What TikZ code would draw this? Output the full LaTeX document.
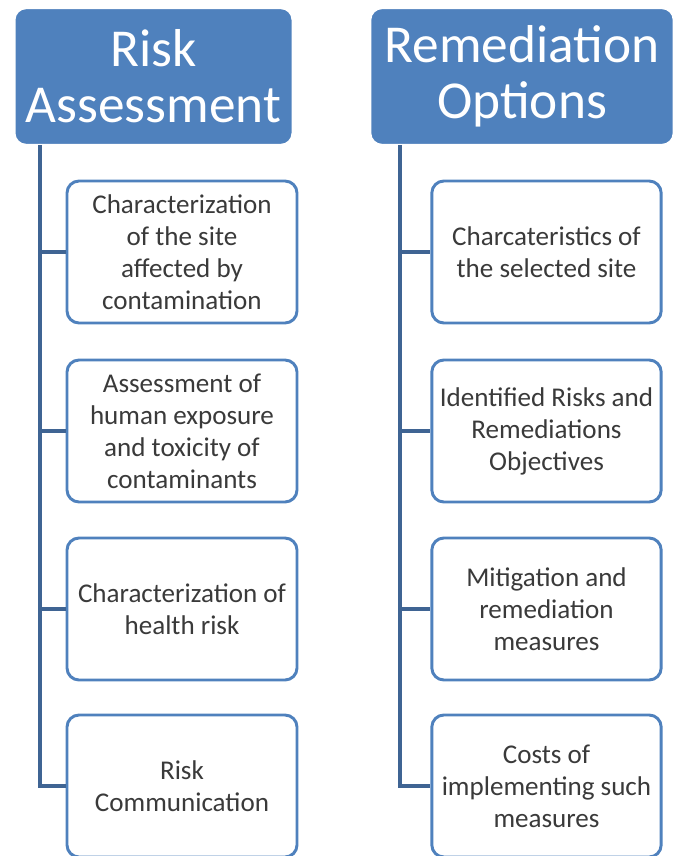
\documentclass[tikz,border=0pt]{standalone}
\usepackage{fontspec}
\setmainfont{Carlito}
\definecolor{hdrblue}{HTML}{4F81BD}
\definecolor{linkblue}{HTML}{3F6493}
\definecolor{txtgray}{HTML}{3A3A3A}
\begin{document}
\begin{tikzpicture}[x=0.75pt,y=-0.75pt,
  header/.style={rectangle,rounded corners=9pt,fill=hdrblue,draw=white,line width=2pt,
    text=white,align=center,inner sep=0pt,
    font=\fontsize{40}{42}\selectfont},
  item/.style={rectangle,rounded corners=9pt,fill=white,draw=hdrblue,line width=2.2pt,
    text=txtgray,align=center,inner sep=0pt,minimum height=106.5pt,
    font=\fontsize{20.3}{24}\selectfont},
  link/.style={draw=linkblue,line width=3pt}]

\clip (0,0) rectangle (675,856);
\useasboundingbox (0,0) rectangle (675,856);

% headers
\node[header,minimum width=209pt,minimum height=103pt] (risk) at (153.5,76.5) {Risk\\Assessment};
\node[header,minimum width=228pt,minimum height=103pt] (remed) at (522,76.5) {Remediation\\Options};

% left column
\node[item,minimum width=172.5pt] (a1) at (182,252) {Characterization\\of the site\\affected by\\contamination};
\node[item,minimum width=172.5pt] (a2) at (182,431) {Assessment of\\human exposure\\and toxicity of\\contaminants};
\node[item,minimum width=172.5pt] (a3) at (182,609) {Characterization of\\health risk};
\node[item,minimum width=172.5pt] (a4) at (182,786) {Risk\\Communication};

% right column
\node[item,minimum width=172pt] (b1) at (546.5,252) {Charcateristics of\\the selected site};
\node[item,minimum width=172pt] (b2) at (546.5,431) {Identified Risks and\\Remediations\\Objectives};
\node[item,minimum width=172pt] (b3) at (546.5,609) {Mitigation and\\remediation\\measures};
\node[item,minimum width=172pt] (b4) at (546.5,786) {Costs of\\implementing such\\measures};

% connectors
\coordinate (ta) at (40,145);
\coordinate (tb) at (400,145);
\draw[link] (ta) |- (a1.west);
\draw[link] (ta) |- (a2.west);
\draw[link] (ta) |- (a3.west);
\draw[link] (ta) |- (a4.west);
\draw[link] (tb) |- (b1.west);
\draw[link] (tb) |- (b2.west);
\draw[link] (tb) |- (b3.west);
\draw[link] (tb) |- (b4.west);
\end{tikzpicture}
\end{document}
